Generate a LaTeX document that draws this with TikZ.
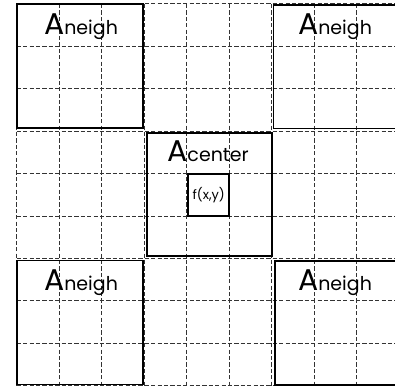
\documentclass[tikz,border=0pt]{standalone}
\usepackage{fontspec}
\setmainfont{Poppins}
\begin{document}
\begin{tikzpicture}[x=1pt,y=-1pt,
  gridline/.style={draw=black!80,line width=1pt,dash pattern=on 4.2pt off 2.2pt},
  nbox/.style={draw=black,line width=1.8pt,inner sep=0pt,minimum width=125.5pt,minimum height=124pt},
  fbox/.style={draw=black,line width=2pt,inner sep=0pt,minimum width=40.7pt,minimum height=41.4pt},
  lbl/.style={anchor=base,inner sep=0pt},
  flbl/.style={inner sep=0pt,font=\fontsize{13}{14}\selectfont}]
\useasboundingbox (0,0) rectangle (395,387);
\clip (0,0) rectangle (395,387);
% grid
\foreach \k in {0,...,9}{
  \draw[gridline] (16.7+42.5*\k,4) -- (16.7+42.5*\k,385.6);
  \draw[gridline] (16.7,4+42.4*\k) -- (400,4+42.4*\k);
}
% boxes
\node[nbox,minimum width=126.3pt,minimum height=124.3pt] (tl) at (80.2,66.2) {};
\node[nbox,minimum width=125pt,minimum height=123.5pt] (tr) at (336,66.8) {};
\node[nbox,minimum width=125pt,minimum height=123pt] (c) at (209.2,194.2) {};
\node[nbox,minimum width=126pt,minimum height=124pt] (bl) at (80,322.5) {};
\node[nbox,minimum width=125pt,minimum height=124.3pt] (br) at (337.5,322.9) {};
\node[fbox] (f) at (208.7,195) {};
% labels
\newcommand{\bigA}{{\fontsize{30}{30}\selectfont A}}
\newcommand{\smallpart}[1]{{\fontsize{19}{19}\selectfont #1}}
\node[lbl] (ltl) at (81,35) {\bigA\smallpart{neigh}};
\node[lbl] (ltr) at (335,35) {\bigA\smallpart{neigh}};
\node[lbl] (lc) at (208,161.7) {\bigA\smallpart{center}};
\node[lbl] (lbl) at (81,290) {\bigA\smallpart{neigh}};
\node[lbl] (lbr) at (335,290) {\bigA\smallpart{neigh}};
\node[flbl] (lf) at (f.center) {f(x,y)};
\end{tikzpicture}
\end{document}
